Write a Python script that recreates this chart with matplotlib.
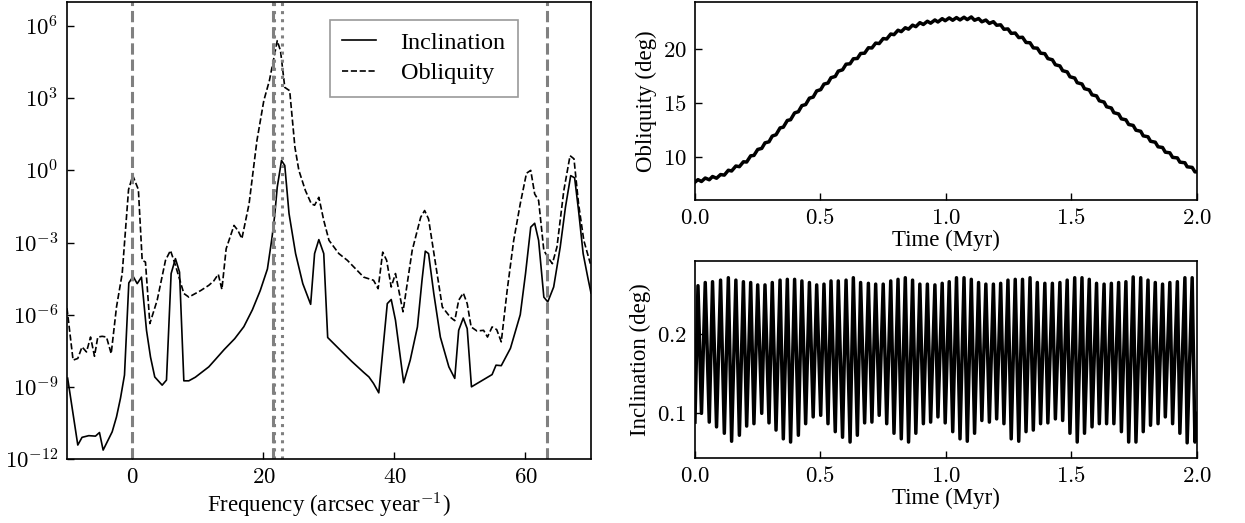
import numpy as np
import matplotlib
matplotlib.use("Agg")
import matplotlib.pyplot as plt
from matplotlib.ticker import FixedLocator, FuncFormatter

plt.rcParams["mathtext.fontset"] = "cm"
plt.rcParams["font.family"] = ["Liberation Serif", "DejaVu Serif"]
plt.rcParams["axes.linewidth"] = 1.2

# ---- spectrum (frequency in arcsec/yr, log10 of power) ----
incl_freq = [-9.9, -8.35, -7.7, -6.67, -5.65, -5.04, -4.48, -3.1, -2.44, -1.83, -1.22,
             -0.56, 0.1, 0.72, 1.37, 2.14, 2.75, 3.4, 4.53, 5.19, 5.9, 6.56, 7.18, 7.84,
             8.6, 9.6, 11.65, 12.7, 14.0, 15.6, 17.0, 18.3, 19.5, 20.6, 21.3, 21.7, 22.1,
             22.75, 23.25, 23.9, 24.9, 26.0, 27.2, 27.8, 28.45, 29.2, 29.8, 31.75, 33.5,
             35.3, 36.1, 36.8, 37.6, 38.9, 39.5, 40.15, 41.4, 42.4, 43.5, 44.2, 44.7, 45.2,
             46.0, 47.0, 48.3, 49.2, 49.8, 50.5, 51.1, 51.75, 54.9, 55.5, 56.3, 57.7, 59.2,
             60.0, 60.8, 61.4, 62.0, 62.8, 63.4, 64.3, 65.3, 66.1, 66.9, 67.5, 68.1, 68.8,
             69.5, 70.0]
incl_log10 = [-8.64, -11.42, -11.1, -11.03, -11.05, -10.9, -11.63, -10.87, -10.25, -9.47,
              -8.51, -4.68, -4.41, -4.71, -4.44, -6.65, -7.76, -8.59, -8.93, -8.72, -4.29,
              -3.67, -4.23, -8.75, -8.75, -8.6, -8.17, -7.85, -7.45, -7.0, -6.5, -5.8,
              -5.0, -4.1, -2.8, -1.9, -0.7, 0.41, 0.2, -1.8, -3.46, -4.71, -5.57, -3.46,
              -2.88, -3.46, -6.95, -7.48, -7.95, -8.4, -8.59, -8.86, -9.25, -5.54, -5.37,
              -6.23, -8.83, -7.89, -6.51, -4.57, -3.36, -3.46, -5.12, -6.93, -8.17, -8.65,
              -6.65, -6.14, -6.58, -9.0, -8.49, -8.1, -8.12, -7.4, -6.0, -4.3, -2.36, -2.2,
              -2.91, -5.27, -5.47, -4.85, -3.19, -1.53, -0.22, -0.31, -1.67, -3.46, -4.44,
              -5.1]

obl_freq = [-10.0, -9.07, -8.35, -7.7, -7.02, -6.4, -5.8, -5.3, -4.63, -3.97, -3.25, -2.44,
            -1.57, -0.6, 0.05, 0.9, 1.48, 1.98, 2.65, 3.77, 5.04, 5.8, 6.56, 7.84, 8.6,
            10.4, 11.65, 12.4, 13.1, 13.65, 14.3, 15.5, 16.1, 16.7, 17.8, 19.0, 20.05,
            20.9, 21.6, 22.1, 22.6, 23.25, 24.0, 24.8, 25.4, 26.4, 27.3, 27.8, 28.45,
            29.2, 30.0, 31.5, 32.8, 35.3, 36.8, 37.5, 38.2, 38.8, 39.5, 40.15, 41.3, 42.7,
            44.0, 44.6, 45.2, 46.5, 47.3, 48.5, 49.2, 49.8, 50.5, 51.1, 51.7, 52.6, 53.6,
            54.2, 54.9, 55.6, 56.3, 57.2, 58.2, 59.2, 60.15, 60.8, 61.4, 62.0, 62.8, 63.55,
            64.1, 64.8, 65.85, 66.8, 67.4, 68.1, 68.9, 69.9]
obl_log10 = [-5.73, -7.89, -7.82, -7.34, -7.55, -6.93, -7.73, -6.93, -6.9, -6.93, -7.62,
             -5.68, -4.29, -0.8, -0.22, -0.8, -3.74, -3.81, -6.37, -5.4, -3.74, -3.33,
             -3.95, -5.12, -5.27, -5.0, -4.78, -4.6, -4.32, -4.95, -3.26, -2.29, -2.5,
             -2.84, -1.39, 1.24, 2.9, 3.73, 4.69, 5.39, 4.97, 3.45, 3.31, 0.96, 0.0, -0.84,
             -1.39, -1.45, -1.12, -2.08, -2.91, -3.46, -3.74, -4.44, -4.57, -4.92, -3.4,
             -3.74, -4.85, -4.29, -5.88, -3.33, -1.95, -1.67, -2.02, -4.29, -5.68, -6.1,
             -6.25, -5.4, -5.1, -5.54, -6.51, -6.68, -6.65, -6.93, -6.51, -6.62, -7.13,
             -4.99, -2.91, -1.39, -0.12, 0.0, -0.98, -1.25, -3.33, -3.67, -3.88, -3.19,
             -0.84, 0.61, 0.48, -1.39, -2.91, -3.88]

# reference frequencies marked on the spectrum
dashed_freqs = [0.0, 21.4, 63.3]
dotted_freqs = [21.65, 22.9]

# ---- time series (Myr) ----
t_myr = [0.0, 0.012, 0.026, 0.041, 0.057, 0.070, 0.086, 0.102, 0.117, 0.133, 0.146,
         0.163, 0.177, 0.193, 0.206, 0.222, 0.235, 0.250, 0.266, 0.279, 0.295, 0.308,
         0.323, 0.339, 0.352, 0.368, 0.381, 0.397, 0.412, 0.426, 0.441, 0.456, 0.471,
         0.485, 0.501, 0.514, 0.530, 0.542, 0.559, 0.571, 0.588, 0.602, 0.618, 0.631,
         0.647, 0.660, 0.676, 0.691, 0.705, 0.720, 0.734, 0.750, 0.764, 0.780, 0.793,
         0.809, 0.822, 0.838, 0.851, 0.867, 0.880, 0.896, 0.910, 0.926, 0.939, 0.956,
         0.968, 0.985, 0.997, 1.013, 1.027, 1.042, 1.056, 1.072, 1.085, 1.101, 1.114,
         1.130, 1.143, 1.159, 1.173, 1.189, 1.202, 1.218, 1.231, 1.247, 1.260, 1.276,
         1.290, 1.305, 1.319, 1.335, 1.348, 1.364, 1.377, 1.394, 1.406, 1.424, 1.436,
         1.454, 1.465, 1.483, 1.494, 1.513, 1.523, 1.542, 1.552, 1.571, 1.582, 1.600,
         1.611, 1.630, 1.640, 1.659, 1.669, 1.688, 1.699, 1.717, 1.728, 1.746, 1.757,
         1.776, 1.786, 1.805, 1.815, 1.834, 1.845, 1.863, 1.874, 1.892, 1.903, 1.922,
         1.932, 1.952, 1.961, 1.981, 1.992, 2.0]

obliquity_deg = [7.65, 7.88, 7.71, 8.03, 7.87, 8.17, 8.01, 8.35, 8.30, 8.75, 8.68, 9.14,
                 9.08, 9.53, 9.51, 10.08, 10.12, 10.67, 10.77, 11.28, 11.38, 11.91, 12.03,
                 12.66, 12.73, 13.35, 13.42, 14.05, 14.16, 14.72, 14.82, 15.41, 15.51,
                 16.08, 16.20, 16.71, 16.81, 17.30, 17.42, 17.91, 18.03, 18.55, 18.59,
                 19.05, 19.08, 19.54, 19.57, 20.07, 20.05, 20.50, 20.46, 20.92, 20.88,
                 21.34, 21.28, 21.69, 21.56, 21.92, 21.79, 22.16, 22.02, 22.39, 22.22,
                 22.52, 22.34, 22.64, 22.45, 22.76, 22.57, 22.83, 22.61, 22.86, 22.64,
                 22.89, 22.67, 22.92, 22.61, 22.77, 22.47, 22.63, 22.32, 22.48, 22.15,
                 22.19, 21.78, 21.81, 21.40, 21.43, 21.01, 21.04, 20.56, 20.53, 20.06,
                 20.03, 19.57, 19.52, 19.07, 18.96, 18.50, 18.39, 17.95, 17.84, 17.39,
                 17.27, 16.84, 16.72, 16.29, 16.17, 15.72, 15.62, 15.17, 15.05, 14.62,
                 14.50, 14.07, 13.95, 13.50, 13.41, 12.98, 12.89, 12.45, 12.35, 11.93,
                 11.84, 11.43, 11.34, 10.92, 10.85, 10.42, 10.36, 9.94, 9.89, 9.50, 9.44,
                 9.07, 9.01, 8.60, 8.60]

inclination_deg = [0.089, 0.260, 0.100, 0.264, 0.089, 0.265, 0.083, 0.267, 0.075, 0.270,
                   0.065, 0.267, 0.0725, 0.265, 0.084, 0.264, 0.087, 0.261, 0.100, 0.261,
                   0.088, 0.264, 0.079, 0.267, 0.068, 0.268, 0.064, 0.268, 0.0725, 0.266,
                   0.087, 0.264, 0.0955, 0.261, 0.0975, 0.262, 0.087, 0.266, 0.077, 0.266,
                   0.070, 0.267, 0.064, 0.270, 0.0725, 0.264, 0.088, 0.263, 0.089, 0.262,
                   0.0975, 0.262, 0.087, 0.266, 0.075, 0.268, 0.068, 0.270, 0.064, 0.267,
                   0.075, 0.262, 0.087, 0.262, 0.089, 0.261, 0.0955, 0.263, 0.088, 0.265,
                   0.077, 0.270, 0.068, 0.270, 0.065, 0.268, 0.075, 0.264, 0.091, 0.262,
                   0.089, 0.262, 0.093, 0.263, 0.087, 0.267, 0.068, 0.268, 0.065, 0.268,
                   0.077, 0.270, 0.079, 0.264, 0.087, 0.263, 0.088, 0.263, 0.093, 0.264,
                   0.091, 0.267, 0.075, 0.270, 0.064, 0.270, 0.075, 0.268, 0.083, 0.263,
                   0.087, 0.262, 0.087, 0.263, 0.087, 0.264, 0.077, 0.265, 0.064, 0.271,
                   0.064, 0.270, 0.077, 0.267, 0.085, 0.264, 0.087, 0.262, 0.0955, 0.264,
                   0.087, 0.265, 0.075, 0.270, 0.063, 0.270, 0.064, 0.100]

tick_size = 16.5
label_size = 16.5


def style_axis(ax):
    ax.tick_params(direction="in", length=5, width=1, top=False, right=False,
                   labelsize=tick_size, pad=6)
    ax.minorticks_off()


fig = plt.figure(figsize=(12.45, 5.23), dpi=100)

# spectrum panel
ax = fig.add_axes([0.0538, 0.1224, 0.4209, 0.8738])
ax.plot(incl_freq, 10.0 ** np.array(incl_log10), color="black", lw=1.2, label="Inclination")
ax.plot(obl_freq, 10.0 ** np.array(obl_log10), color="black", lw=1.2, ls="--", label="Obliquity")
for f in dashed_freqs:
    ax.axvline(f, color="0.5", lw=2.2, ls="--")
for f in dotted_freqs:
    ax.axvline(f, color="0.5", lw=2.2, ls=":")
ax.set_yscale("log")
ax.set_xlim(-10, 70)
ax.set_ylim(1e-12, 1e7)
ax.yaxis.set_major_locator(FixedLocator([1e-12, 1e-9, 1e-6, 1e-3, 1e0, 1e3, 1e6]))
ax.yaxis.set_major_formatter(FuncFormatter(lambda v, p: r"$10^{%d}$" % round(np.log10(v))))
ax.xaxis.set_major_locator(FixedLocator([0, 20, 40, 60]))
ax.xaxis.set_major_formatter(FuncFormatter(lambda v, p: r"$%d$" % v))
ax.set_xlabel("Frequency (arcsec year$^{-1}$)", fontsize=label_size, labelpad=2)
style_axis(ax)
leg = ax.legend(loc="upper left", bbox_to_anchor=(0.502, 0.961), borderaxespad=0,
                fontsize=17.5, fancybox=False, edgecolor="0.5", handlelength=1.4,
                handletextpad=1.0, borderpad=0.5, labelspacing=0.35)
leg.get_frame().set_linewidth(1.2)

# obliquity vs time
ax1 = fig.add_axes([0.5582, 0.6176, 0.4032, 0.3786])
ax1.plot(t_myr, obliquity_deg, color="black", lw=2.5)
ax1.set_xlim(0, 2)
ax1.set_ylim(6.0, 24.3)
ax1.yaxis.set_major_locator(FixedLocator([10, 15, 20]))
ax1.yaxis.set_major_formatter(FuncFormatter(lambda v, p: r"$%d$" % v))
ax1.xaxis.set_major_locator(FixedLocator([0.0, 0.5, 1.0, 1.5, 2.0]))
ax1.xaxis.set_major_formatter(FuncFormatter(lambda v, p: r"$%.1f$" % v))
ax1.set_xlabel("Time (Myr)", fontsize=label_size, labelpad=0)
ax1.set_ylabel("Obliquity (deg)", fontsize=label_size, labelpad=4)
style_axis(ax1)

# inclination vs time
ax2 = fig.add_axes([0.5582, 0.1243, 0.4032, 0.3767])
ax2.plot(t_myr, inclination_deg, color="black", lw=2.5)
ax2.set_xlim(0, 2)
ax2.set_ylim(0.044, 0.291)
ax2.yaxis.set_major_locator(FixedLocator([0.1, 0.2]))
ax2.yaxis.set_major_formatter(FuncFormatter(lambda v, p: r"$%.1f$" % v))
ax2.xaxis.set_major_locator(FixedLocator([0.0, 0.5, 1.0, 1.5, 2.0]))
ax2.xaxis.set_major_formatter(FuncFormatter(lambda v, p: r"$%.1f$" % v))
ax2.set_xlabel("Time (Myr)", fontsize=label_size, labelpad=0)
ax2.set_ylabel("Inclination (deg)", fontsize=label_size, labelpad=4)
style_axis(ax2)

fig.savefig("out.png", dpi=100)
